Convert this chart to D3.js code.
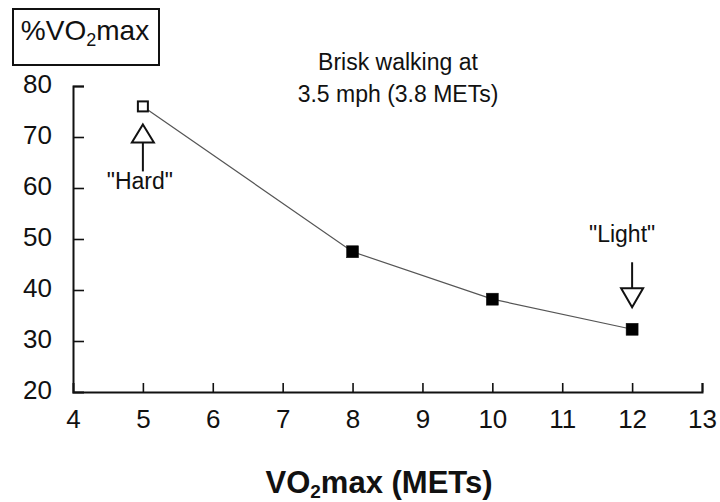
<!DOCTYPE html>
<html>
<head>
<meta charset="utf-8">
<script src="https://cdn.jsdelivr.net/npm/d3@7"></script>
<style>
  html, body { margin: 0; padding: 0; background: #fff; }
  svg { display: block; }
  text { font-family: "Liberation Sans", Arial, Helvetica, sans-serif; fill: #111; }
</style>
</head>
<body>
<svg id="chart" width="720" height="502"></svg>
<script>
// ---- data ----
const xValues = [5, 8, 10, 12];
const yValues = [76, 47.5, 38.2, 32.3];
const hollow = [true, false, false, false];
const xTicks = [4, 5, 6, 7, 8, 9, 10, 11, 12, 13];
const yTicks = [20, 30, 40, 50, 60, 70, 80];
const yTitle = ["%VO", "2", "max"];
const xTitle = ["VO", "2", "max (METs)"];
const noteLines = ["Brisk walking at", "3.5 mph (3.8 METs)"];
const hardLabel = "\"Hard\"";
const lightLabel = "\"Light\"";

// ---- layout ----
const svg = d3.select("#chart");
const plotL = 73, plotR = 702, plotT = 86, plotB = 392;
const x = d3.scaleLinear().domain([4, 13]).range([plotL, plotR]);
const y = d3.scaleLinear().domain([20, 80]).range([plotB, plotT]);

// axes
const xAxis = d3.axisBottom(x).tickValues(xTicks).tickSize(-9).tickPadding(18).tickFormat(d3.format("d"));
const yAxis = d3.axisLeft(y).tickValues(yTicks).tickSize(-11).tickPadding(21).tickFormat(d3.format("d"));

const gx = svg.append("g").attr("transform", `translate(0,${plotB})`).call(xAxis);
const gy = svg.append("g").attr("transform", `translate(${plotL},0)`).call(yAxis);
[gx, gy].forEach(g => {
  g.select(".domain").attr("stroke", "#111").attr("stroke-width", 2);
  g.selectAll(".tick line").attr("stroke", "#111").attr("stroke-width", 1.6);
  g.selectAll(".tick text").attr("font-size", 26).attr("fill", "#111")
    .attr("font-family", "'Liberation Sans', Arial, sans-serif");
});
gx.selectAll(".tick text").attr("dy", "0.71em");
gy.selectAll(".tick text").attr("dy", "0.25em");
gx.selectAll(".tick").filter(d => d === 4).select("line").remove();
gy.selectAll(".tick").filter(d => d === 20).select("line").remove();

// line
const line = d3.line().x((d, i) => x(xValues[i])).y(d => y(d));
svg.append("path").datum(yValues)
  .attr("d", line).attr("fill", "none").attr("stroke", "#555").attr("stroke-width", 1.2);

// points
svg.selectAll("rect.pt").data(yValues).enter().append("rect")
  .attr("class", "pt")
  .attr("x", (d, i) => x(xValues[i]) - (hollow[i] ? 5 : 6))
  .attr("y", (d, i) => y(d) - (hollow[i] ? 5 : 6))
  .attr("width", (d, i) => hollow[i] ? 10 : 12)
  .attr("height", (d, i) => hollow[i] ? 10 : 12)
  .attr("fill", (d, i) => hollow[i] ? "#fff" : "#000")
  .attr("stroke", "#111")
  .attr("stroke-width", (d, i) => hollow[i] ? 2 : 0.5);

// y title box
const box = svg.append("g");
box.append("rect").attr("x", 13).attr("y", 9).attr("width", 146).attr("height", 56)
  .attr("fill", "#fff").attr("stroke", "#111").attr("stroke-width", 2);
const yt = box.append("text").attr("x", 85).attr("y", 40).attr("text-anchor", "middle").attr("font-size", 28);
yt.append("tspan").text(yTitle[0]);
yt.append("tspan").attr("font-size", 18).attr("dy", 6).text(yTitle[1]);
yt.append("tspan").attr("dy", -6).text(yTitle[2]);

// x title
const xt = svg.append("text").attr("x", 379).attr("y", 493).attr("text-anchor", "middle")
  .attr("font-size", 31).attr("font-weight", "bold");
xt.append("tspan").text(xTitle[0]);
xt.append("tspan").attr("font-size", 19).attr("dy", 5).text(xTitle[1]);
xt.append("tspan").attr("dy", -5).text(xTitle[2]);

// note
svg.selectAll("text.note").data(noteLines).enter().append("text")
  .attr("class", "note")
  .attr("x", 398).attr("y", (d, i) => 70 + i * 32)
  .attr("text-anchor", "middle").attr("font-size", 23).text(d => d);

// "Hard" annotation
const hx = x(xValues[0]), hy = y(yValues[0]);
const ha = svg.append("g");
ha.append("path")
  .attr("d", `M${hx},${hy + 18} L${hx + 11},${hy + 36} L${hx - 11},${hy + 36} Z`)
  .attr("fill", "#fff").attr("stroke", "#111").attr("stroke-width", 2);
ha.append("line").attr("x1", hx).attr("x2", hx).attr("y1", hy + 36).attr("y2", hy + 65)
  .attr("stroke", "#111").attr("stroke-width", 2);
ha.append("text").attr("x", hx - 3).attr("y", hy + 83).attr("text-anchor", "middle")
  .attr("font-size", 23).text(hardLabel);

// "Light" annotation
const lx = x(xValues[3]), ly = y(yValues[3]);
const la = svg.append("g");
la.append("text").attr("x", lx - 10).attr("y", ly - 87).attr("text-anchor", "middle")
  .attr("font-size", 23).text(lightLabel);
la.append("line").attr("x1", lx).attr("x2", lx).attr("y1", ly - 67).attr("y2", ly - 41)
  .attr("stroke", "#111").attr("stroke-width", 2);
la.append("path")
  .attr("d", `M${lx - 11},${ly - 41} L${lx + 11},${ly - 41} L${lx},${ly - 22} Z`)
  .attr("fill", "#fff").attr("stroke", "#111").attr("stroke-width", 2);
</script>
</body>
</html>
